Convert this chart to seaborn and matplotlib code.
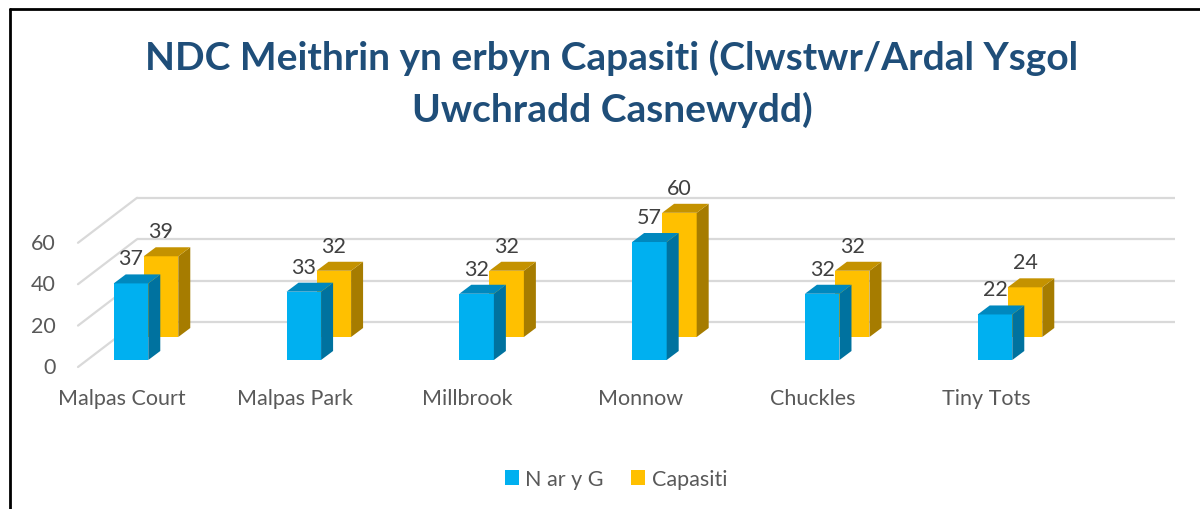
import numpy as np
import pandas as pd
import matplotlib
matplotlib.use("Agg")
import matplotlib.pyplot as plt
import seaborn as sns
from matplotlib.patches import Polygon, Rectangle
from matplotlib.lines import Line2D

# ---- data ----
categories = ["Malpas Court", "Malpas Park", "Millbrook", "Monnow", "Chuckles", "Tiny Tots"]
n_ar_y_g = [37, 33, 32, 57, 32, 22]
capasiti = [39, 32, 32, 60, 32, 24]
series_names = ["N ar y G", "Capasiti"]
y_ticks = [0, 20, 40, 60]
title_lines = ["NDC Meithrin yn erbyn Capasiti (Clwstwr/Ardal Ysgol", "Uwchradd Casnewydd)"]

# ---- styling ----
sns.set_theme(style="white")
plt.rcParams['font.family'] = ['Lato', 'DejaVu Sans']

BLUE, BLUE_SIDE, BLUE_TOP = "#00B0F0", "#00729F", "#0088BE"
ORANGE, ORANGE_SIDE, ORANGE_TOP = "#FFC000", "#A67C00", "#C49200"
TXT = "#595959"
LBL = "#404040"
GRID = "#D9D9D9"
FS = 15.5

W, H = 1200, 510
fig = plt.figure(figsize=(W / 100, H / 100), dpi=100)

# pixel mapping of the front plane
X0, SX = 122.0, 172.8     # px of category 0, px per category
Y0, SY = 368.0, 2.07      # px of value 0, px per value unit
L, R, T, B = 20, 1200, 150, 382
ax = fig.add_axes([L / W, 1 - B / H, (R - L) / W, (B - T) / H])

df = pd.DataFrame({
    "cat": categories * 2,
    "val": n_ar_y_g + capasiti,
    "series": [series_names[0]] * len(categories) + [series_names[1]] * len(categories),
})
sns.barplot(data=df, x="cat", y="val", hue="series", dodge=False, width=0.2,
            palette=[BLUE, ORANGE], saturation=1, errorbar=None, legend=False,
            linewidth=0, ax=ax)

ax.set_xlim((L - X0) / SX, (R - X0) / SX)
ax.set_ylim((Y0 - B) / SY, (Y0 - T) / SY)

def px(dxp, dyp):
    return dxp / SX, dyp / SY

# depth offsets in pixels (right, up)
shifts = [(9, 7), (39, 30)]
depth = (12, 9)
faces = [(BLUE_SIDE, BLUE_TOP), (ORANGE_SIDE, ORANGE_TOP)]
zorders = [6, 4]
series_vals = [n_ar_y_g, capasiti]

for k, cont in enumerate(ax.containers[:2]):
    sdx, sdy = px(*shifts[k])
    ddx, ddy = px(*depth)
    side_c, top_c = faces[k]
    for patch, val in zip(cont.patches, series_vals[k]):
        x, w, h = patch.get_x(), patch.get_width(), patch.get_height()
        x += sdx
        y = sdy
        patch.set_x(x)
        patch.set_y(y)
        patch.set_zorder(zorders[k])
        side = Polygon([(x + w, y), (x + w + ddx, y + ddy), (x + w + ddx, y + h + ddy), (x + w, y + h)],
                       closed=True, fc=side_c, ec="none", zorder=zorders[k])
        top = Polygon([(x, y + h), (x + ddx, y + h + ddy), (x + w + ddx, y + h + ddy), (x + w, y + h)],
                      closed=True, fc=top_c, ec="none", zorder=zorders[k])
        ax.add_patch(side)
        ax.add_patch(top)
        ax.text(x + w / 2, y + h + 25 / SY, f"{val}", ha="center", va="center",
                fontsize=FS, color=LBL, zorder=10)

# back wall gridlines and diagonal floor lines
xa = (78 - X0) / SX
xb = (1116 - X0) / SX
bdx, bdy = px(59, 45)
for v in y_ticks:
    ax.plot([xa + bdx, xb + bdx], [v + bdy, v + bdy], color=GRID, lw=1.6, zorder=1,
            solid_capstyle="butt")
    ax.plot([xa, xa + bdx], [v, v + bdy], color=GRID, lw=1.6, zorder=1)
    ax.text(xa - 22 / SX, v, f"{v}", ha="right", va="center", fontsize=FS, color=TXT)

ax.set_yticks([])
ax.set_xticks(range(len(categories)), categories)
ax.tick_params(axis="x", length=0, pad=5, labelsize=FS, labelcolor=TXT)
ax.set_xlabel("")
ax.set_ylabel("")
for s in ax.spines.values():
    s.set_visible(False)
ax.patch.set_alpha(0)

# title
fig.text(612 / W, 1 - 58 / H, title_lines[0], ha="center", va="center",
         fontsize=28, fontweight="bold", color="#1F4E79")
fig.text(612 / W, 1 - 110 / H, title_lines[1], ha="center", va="center",
         fontsize=28, fontweight="bold", color="#1F4E79")

# legend
handles = [Rectangle((0, 0), 1, 1, fc=BLUE, ec="none"), Rectangle((0, 0), 1, 1, fc=ORANGE, ec="none")]
fig.legend(handles, series_names, loc="center", bbox_to_anchor=(616 / W, 1 - 480 / H), ncol=2,
           frameon=False, fontsize=FS, labelcolor=TXT, handlelength=0.65, handleheight=0.65,
           handletextpad=0.3, columnspacing=1.3)

# chart frame (left & top edges)
fig.add_artist(Line2D([10 / W, 10 / W], [0, 1 - 10 / H], transform=fig.transFigure, color="black", lw=2))
fig.add_artist(Line2D([10 / W, 1], [1 - 10 / H, 1 - 10 / H], transform=fig.transFigure, color="black", lw=2))

fig.savefig("out.png", dpi=100, facecolor="white")
